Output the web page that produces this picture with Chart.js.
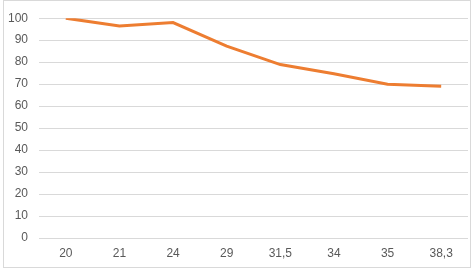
<!DOCTYPE html>
<html>
<head>
<meta charset="utf-8">
<script src="https://cdn.jsdelivr.net/npm/chart.js@4/dist/chart.umd.min.js"></script>
<style>
  html, body { margin: 0; padding: 0; background: #fff; }
  #wrap { position: relative; width: 476px; height: 278px; }
  #frame { position: absolute; left: 3px; top: 0px; width: 468px; height: 268px; border: 1px solid #d9d9d9; box-sizing: border-box; pointer-events: none; }
</style>
</head>
<body>
<div id="wrap">
  <canvas id="chart" width="476" height="278"></canvas>
  <div id="frame"></div>
</div>
<script>
// x categories and series values
const categories = ["20", "21", "24", "29", "31,5", "34", "35", "38,3"];
const values = [100, 96.5, 98, 87.3, 78.9, 74.7, 70, 69];
const yTicks = [0, 10, 20, 30, 40, 50, 60, 70, 80, 90, 100];

const ctx = document.getElementById("chart").getContext("2d");
new Chart(ctx, {
  type: "line",
  data: {
    labels: categories,
    datasets: [
      {
        data: values,
        borderColor: "#ED7D31",
        borderWidth: 3,
        pointRadius: 0,
        tension: 0,
        fill: false,
      },
    ],
  },
  options: {
    responsive: false,
    animation: false,
    layout: { padding: { left: 0, right: 8, top: 13, bottom: 0 } },
    plugins: { legend: { display: false }, tooltip: { enabled: false } },
    scales: {
      x: {
        offset: true,
        grid: { display: false, drawTicks: false },
        border: { display: false },
        ticks: {
          color: "#595959",
          font: { family: "Liberation Sans", size: 12 },
          padding: 8,
          maxRotation: 0,
        },
        afterFit: (scale) => { scale.height = 40; },
      },
      y: {
        min: 0,
        max: 100,
        afterBuildTicks: (scale) => { scale.ticks = yTicks.map((v) => ({ value: v })); },
        grid: { color: "#d9d9d9", lineWidth: 1, drawTicks: false },
        border: { display: false },
        ticks: {
          color: "#595959",
          font: { family: "Liberation Sans", size: 12 },
          padding: 11,
        },
        afterFit: (scale) => { scale.width = 39; },
      },
    },
  },
});
</script>
</body>
</html>
